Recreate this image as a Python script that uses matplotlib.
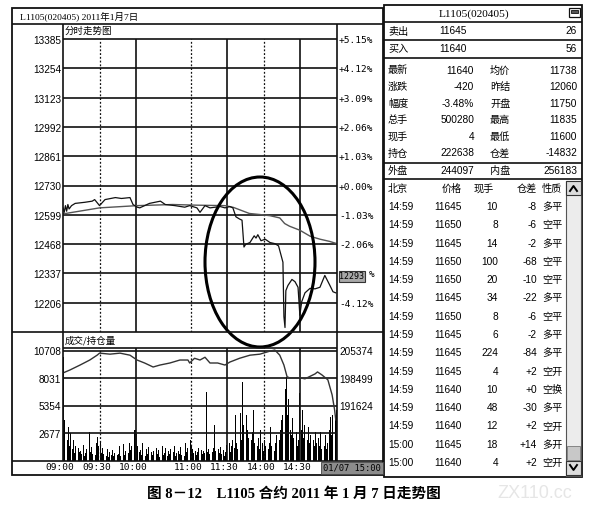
import matplotlib
matplotlib.use('Agg')
import matplotlib.pyplot as plt
from matplotlib.patches import Rectangle, Ellipse

plt.rcParams['font.family'] = ['Liberation Sans', 'Noto Sans CJK SC', 'DejaVu Sans']

# ---------------- data ----------------
price_ticks = [13385, 13254, 13123, 12992, 12861, 12730, 12599, 12468, 12337, 12206]
pct_labels = ['+5.15%', '+4.12%', '+3.09%', '+2.06%', '+1.03%', '+0.00%', '-1.03%', '-2.06%', '-3.09%', '-4.12%']

price_t = [0, 1, 2, 3, 4, 5, 7, 10, 18, 24, 26, 30, 34.5, 43, 48, 55, 57.5, 61, 63, 71, 80, 84, 92, 100,
           104, 110, 112.5, 116.6, 120.7, 125, 129, 133, 137, 139.5, 142, 145, 147, 148.6, 150, 153.5,
           157, 158.5, 160, 162.6, 166, 170, 174, 177, 180.6, 181.4, 182.3, 183, 184.7, 188, 190.5, 193,
           194.5, 196, 198.7, 202.8, 207, 211, 215, 219, 221.7, 224]
price_v = [12630, 12610, 12640, 12615, 12645, 12625, 12640, 12650, 12655, 12660, 12667, 12640, 12667,
           12676, 12672, 12676, 12645, 12633, 12630, 12650, 12660, 12645, 12640, 12633, 12640, 12630,
           12610, 12640, 12630, 12633, 12636, 12630, 12636, 12630, 12590, 12580, 12575, 12455, 12467,
           12475, 12505, 12495, 12510, 12483, 12490, 12475, 12470, 12460, 12387, 12144, 12095, 12260,
           12283, 12310, 12300, 12275, 12150, 12210, 12250, 12270, 12268, 12275, 12328, 12285, 12255, 12250]

avg_t = [0, 30, 61, 90, 110, 133, 140, 153, 162, 170, 178, 182, 186, 194.5, 203, 211, 219, 225]
avg_v = [12603, 12630, 12640, 12645, 12642, 12640, 12632, 12605, 12600, 12595, 12585, 12560, 12548,
         12530, 12503, 12490, 12480, 12470]

vol_ticks = [10708, 8031, 5354, 2677]
oi_labels = ['205374', '198499', '191624']
volume = [10100, 4000, 3700, 2000, 3300, 1500, 2750, 1200, 2000, 800, 1500, 600, 1300, 900, 1000,
          700, 1600, 500, 800, 1200, 600, 2850, 900, 1400, 700, 1100, 600, 1800, 2300, 1500,
          1900, 800, 1300, 700, 1000, 500, 1200, 400, 900, 600, 1100, 500, 800, 1300, 600,
          700, 1500, 500, 900, 1700, 600, 1000, 1200, 800, 1800, 1100, 1500, 700, 3050, 3000,
          2600, 1500, 900, 1100, 600, 1800, 800, 500, 1200, 700, 1400, 500, 900, 600, 1000,
          500, 1300, 700, 1100, 400, 900, 1500, 600, 800, 1300, 500, 1000, 700, 1200, 600,
          900, 1500, 500, 800, 1000, 700, 1400, 600, 1200, 500, 1800, 900, 1300, 1600, 2000,
          1500, 1200, 800, 1000, 600, 900, 1300, 4200, 1100, 700, 1000, 800, 6700, 900, 1200,
          700, 1500, 900, 1300, 3500, 1000, 600, 1200, 800, 1400, 700, 1100, 500, 900, 1600,
          1200, 1800, 900, 1500, 2000, 1300, 4500, 1800, 1200, 2500, 4700, 2000, 7700, 3500, 7400,
          4500, 3000, 2200, 3500, 2000, 2800, 5000, 1800, 2500, 1500, 2200, 1200, 3000, 1800, 1000,
          2000, 1500, 2500, 1200, 1800, 3300, 1500, 2200, 1000, 1800, 2500, 1400, 2000, 3000, 4000,
          4500, 10600, 7000, 8200, 4500, 6000, 3000, 2500, 4200, 2200, 1800, 2800, 1500, 2000, 6600,
          3000, 5000, 2200, 3500, 2800, 2000, 3300, 1800, 2500, 3000, 2000, 1500, 2800, 1800, 2200,
          1500, 2800, 1200, 2000, 1500, 2500, 1200, 1800, 3000, 4300, 2500, 4500, 3500, 4200, 5000]

oi_t = [0, 5.7, 14, 22, 28, 30, 38.6, 46.8, 55, 60.8, 67, 74, 79.6, 87.8, 96, 102.6, 104, 108, 112.5,
        116.6, 120.7, 127, 133, 137, 145, 153.5, 161.7, 170, 174, 178, 181.4, 184, 186, 194.5, 198.7,
        207, 209, 212.6, 217.5, 221, 223, 224]
oi_v = [199884, 200629, 201862, 203120, 204327, 204840, 204584, 204840, 204327, 203120, 202375, 201373,
        201862, 202375, 203120, 203120, 202375, 203556, 203120, 203813, 202375, 202375, 201862, 202606,
        203556, 204327, 204584, 205354, 205610, 204327, 201862, 198933, 198676, 198676, 198420,
        199652, 200140, 199400, 198163, 194388, 190715, 188147]

time_pos = [0, 30, 60, 105, 135, 165, 195]
time_labels = ['09:00', '09:30', '10:00', '11:00', '11:30', '14:00', '14:30']
solid_v = [60, 135, 195]
dotted_v = [30, 105, 165]

quote_l = ['最新', '涨跌', '幅度', '总手', '现手', '持仓']
quote_lv = ['11640', '-420', '-3.48%', '500280', '4', '222638']
quote_r = ['均价', '昨结', '开盘', '最高', '最低', '仓差']
quote_rv = ['11738', '12060', '11750', '11835', '11600', '-14832']

trade_time = ['14:59'] * 13 + ['15:00'] * 2
trade_price = ['11645', '11650', '11645', '11650', '11650', '11645', '11650', '11645', '11645',
               '11645', '11640', '11640', '11640', '11645', '11640']
trade_qty = ['10', '8', '14', '100', '20', '34', '8', '6', '224', '4', '10', '48', '12', '18', '4']
trade_chg = ['-8', '-6', '-2', '-68', '-10', '-22', '-6', '-2', '-84', '+2', '+0', '-30', '+2', '+14', '+2']
trade_type = ['多平', '空平', '多平', '空平', '空平', '多平', '空平', '多平', '多平', '空开', '空换',
              '多平', '空开', '多开', '空开']

# ---------------- figure ----------------
W, H = 595, 523
fig = plt.figure(figsize=(W / 100, H / 100), dpi=100)
fig.patch.set_facecolor('white')


def ax_px(x0, y0, x1, y1):
    return fig.add_axes([x0 / W, 1 - y1 / H, (x1 - x0) / W, (y1 - y0) / H])


LC = '#111111'
MONO = 'DejaVu Sans Mono'
CJK = ['Noto Sans CJK SC', 'DejaVu Sans']

# price axes
axp = ax_px(63, 39, 337, 332)
axp.set_xlim(0, 225)
axp.set_ylim(12075, 13385)
for t in price_ticks[1:]:
    axp.axhline(t, color=LC, lw=1.2)
for v in solid_v:
    axp.axvline(v, color=LC, lw=1.2)
for v in dotted_v:
    axp.axvline(v, color=LC, lw=0.9, ls=(0, (1.5, 1.5)))
axp.plot(avg_t, avg_v, color='#555555', lw=1.0)
axp.plot(price_t, price_v, color='#111111', lw=0.9)
axp.set_xticks([]); axp.set_yticks([])
for s in axp.spines.values():
    s.set_visible(False)

# volume axes
axv = ax_px(63, 348, 337, 461)
axv.set_xlim(0, 225)
axv.set_ylim(0, 11000)
for t in vol_ticks:
    axv.axhline(t, color=LC, lw=1.2)
for v in solid_v:
    axv.axvline(v, color=LC, lw=1.2)
for v in dotted_v:
    axv.axvline(v, color=LC, lw=0.9, ls=(0, (1.5, 1.5)))
axv.bar([i + 0.5 for i in range(len(volume))], volume, width=0.7, color='black', lw=0)
axv.set_xticks([]); axv.set_yticks([])
for s in axv.spines.values():
    s.set_visible(False)
axo = axv.twinx()
axo.set_ylim(177874, 177874 + 11000 * 6875 / 2677)
axo.plot(oi_t, oi_v, color='#333333', lw=1.0)
axo.set_yticks([])
for s in axo.spines.values():
    s.set_visible(False)

# canvas overlay
cv = fig.add_axes([0, 0, 1, 1], zorder=10)
cv.set_xlim(0, W)
cv.set_ylim(H, 0)
cv.axis('off')


def hl(x0, x1, y, lw=1.2, c=LC):
    cv.plot([x0, x1], [y, y], color=c, lw=lw, solid_capstyle='butt')


def vl(x, y0, y1, lw=1.2, c=LC):
    cv.plot([x, x], [y0, y1], color=c, lw=lw, solid_capstyle='butt')


# left frame
cv.add_patch(Rectangle((12, 8), 371, 467, fill=False, ec=LC, lw=1.3))
hl(12, 383, 24)
vl(63, 24, 461)
vl(337, 24, 461)
hl(63, 337, 39)
hl(12, 383, 332)
hl(63, 337, 348)
hl(12, 383, 461)
cv.text(20, 16.5, 'L1105(020405) 2011年1月7日', fontsize=6.8, va='center', ha='left',
        family=['Liberation Serif', 'Noto Sans CJK SC'])
cv.text(65, 31.5, '分时走势图', fontsize=6.8, va='center', ha='left', family=CJK)
cv.text(65, 340.5, '成交/持仓量', fontsize=6.8, va='center', ha='left', family=CJK)

# price labels
for i, (t, pl) in enumerate(zip(price_ticks, pct_labels)):
    y = 39 + i * 29.3
    cv.text(61, y + 2, str(t), fontsize=7.2, ha='right', va='center')
    if pl != '-3.09%':
        cv.text(339, y + 1.5, pl, fontsize=6.8, ha='left', va='center', family=MONO)
    else:
        cv.text(339.5, y + 3, '12293', fontsize=6.0, ha='left', va='center', family=MONO,
                bbox=dict(boxstyle='square,pad=0.1', fc='#a8a8a8', ec='#333333', lw=0.8))
        cv.text(369, y + 1.5, '%', fontsize=6.8, ha='left', va='center', family=MONO)

# volume labels
for t in vol_ticks:
    y = 461 - t / 11000 * 113
    cv.text(61, y + 1.5, str(t), fontsize=7.2, ha='right', va='center')
for t, lab in zip(vol_ticks[:3], oi_labels):
    y = 461 - t / 11000 * 113
    cv.text(339, y + 1.5, lab, fontsize=7.2, ha='left', va='center')

# time labels
for p, lab in zip(time_pos, time_labels):
    x = 63 + p * 274 / 225 - 3
    cv.text(x, 468, lab, fontsize=6.8, ha='center', va='center', family=MONO)
cv.text(352, 468, '01/07 15:00', fontsize=6.3, ha='center', va='center', family=MONO,
        bbox=dict(boxstyle='square,pad=0.2', fc='#8c8c8c', ec='#444444', lw=0.6))

# ellipse
cv.add_patch(Ellipse((260, 262), 110, 170, fill=False, ec='black', lw=2.2))

# ---------------- right panel ----------------
RX0, RX1 = 384, 582
cv.add_patch(Rectangle((RX0, 5), RX1 - RX0, 472, fill=False, ec=LC, lw=1.3))
for y in [22, 40, 58, 163, 179]:
    hl(RX0, RX1, y)
cv.text(474, 14, 'L1105(020405)', fontsize=8.2, ha='center', va='center', family='Liberation Serif')
cv.add_patch(Rectangle((569, 8), 11, 9, fill=False, ec=LC, lw=0.9))
cv.add_patch(Rectangle((571, 10), 7, 3, fill=True, fc='#555555', ec=LC, lw=0.6))

fs = 7.3
cv.text(388, 31.5, '卖出', fontsize=fs, ha='left', va='center', family=CJK)
cv.text(467, 31.5, '11645', fontsize=fs, ha='right', va='center')
cv.text(577, 31.5, '26', fontsize=fs, ha='right', va='center')
cv.text(388, 49.5, '买入', fontsize=fs, ha='left', va='center', family=CJK)
cv.text(467, 49.5, '11640', fontsize=fs, ha='right', va='center')
cv.text(577, 49.5, '56', fontsize=fs, ha='right', va='center')

for i in range(6):
    y = 70.5 + i * 16.6
    cv.text(388, y, quote_l[i], fontsize=fs, ha='left', va='center', family=CJK)
    cv.text(474, y, quote_lv[i], fontsize=fs, ha='right', va='center')
    cv.text(490, y, quote_r[i], fontsize=fs, ha='left', va='center', family=CJK)
    cv.text(577, y, quote_rv[i], fontsize=fs, ha='right', va='center')
cv.text(388, 171, '外盘', fontsize=fs, ha='left', va='center', family=CJK)
cv.text(474, 171, '244097', fontsize=fs, ha='right', va='center')
cv.text(490, 171, '内盘', fontsize=fs, ha='left', va='center', family=CJK)
cv.text(577, 171, '256183', fontsize=fs, ha='right', va='center')

cv.text(388, 189, '北京', fontsize=fs, ha='left', va='center', family=CJK)
cv.text(452, 189, '价格', fontsize=fs, ha='center', va='center', family=CJK)
cv.text(484, 189, '现手', fontsize=fs, ha='center', va='center', family=CJK)
cv.text(527, 189, '仓差', fontsize=fs, ha='center', va='center', family=CJK)
cv.text(552, 189, '性质', fontsize=fs, ha='center', va='center', family=CJK)

for i in range(len(trade_time)):
    y = 207 + i * 18.29
    cv.text(388, y, trade_time[i], fontsize=fs, ha='left', va='center')
    cv.text(462, y, trade_price[i], fontsize=fs, ha='right', va='center')
    cv.text(498, y, trade_qty[i], fontsize=fs, ha='right', va='center')
    cv.text(537, y, trade_chg[i], fontsize=fs, ha='right', va='center')
    cv.text(542, y, trade_type[i], fontsize=fs, ha='left', va='center', family=CJK)

# scrollbar
cv.add_patch(Rectangle((566, 181), 15, 295, fc='#ececec', ec='#555555', lw=0.8))
cv.add_patch(Rectangle((566, 181), 15, 14, fc='#dcdcdc', ec='#333333', lw=0.8))
cv.add_patch(Rectangle((566, 461), 15, 14, fc='#dcdcdc', ec='#333333', lw=0.8))
cv.add_patch(Rectangle((567, 446), 13, 14, fc='#c8c8c8', ec='#777777', lw=0.6))
cv.plot([570, 573.5, 577], [191, 186, 191], color='black', lw=1.4)
cv.plot([570, 573.5, 577], [465, 470, 465], color='black', lw=1.4)

# caption and watermark
cv.text(294, 494, '图 8－12　L1105 合约 2011 年 1 月 7 日走势图', fontsize=10.5, ha='center',
        va='center', weight='bold', family=['Liberation Serif', 'Noto Sans CJK SC'])
cv.text(535, 494, 'ZX110.cc', fontsize=13, ha='center', va='center', color='#e6e6e6')

fig.savefig('out.png', dpi=100)
